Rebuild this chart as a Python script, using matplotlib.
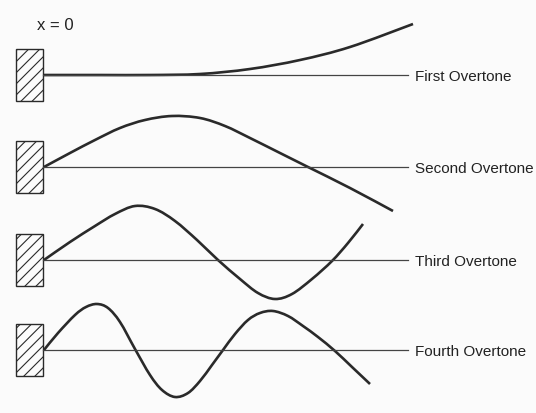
import matplotlib
matplotlib.use("Agg")
import matplotlib.pyplot as plt
from matplotlib.patches import Rectangle, PathPatch
from matplotlib.path import Path

# ---- data (pixel-like coordinates) ----
labels = ["First Overtone", "Second Overtone", "Third Overtone", "Fourth Overtone"]
baselines = [76, 168, 261, 351]

c1_x = [43, 100, 150, 200, 250, 300, 350, 413]
c1_y = [76, 76, 76, 75, 70, 61, 48, 25]

c2_x = [44, 70, 95, 120, 145, 172, 200, 225, 250, 280, 308, 350, 393]
c2_y = [168, 154, 141, 129, 121, 117, 119, 127, 139, 154, 168, 189, 212]

c3_x = [44, 70, 95, 115, 135, 155, 175, 197, 218, 240, 258, 275, 292, 312, 332, 348, 363]
c3_y = [261, 243, 227, 215, 207, 210, 222, 241, 261, 280, 294, 300, 295, 280, 262, 244, 225]

c4_x = [44, 58, 75, 86, 97, 108, 120, 135, 150, 162, 175, 188, 200, 212, 223, 235, 248, 260, 273, 288, 303, 318, 335, 352, 370]
c4_y = [351, 334, 316, 308, 305, 309, 323, 350, 376, 391, 398, 394, 382, 366, 351, 335, 321, 314, 312, 317, 327, 338, 352, 368, 385]

curves_x = [c1_x, c2_x, c3_x, c4_x]
curves_y = [c1_y, c2_y, c3_y, c4_y]

box_x0, box_x1 = 16, 43
box_half = 26
line_end = 408


def smooth_path(xs, ys):
    """Catmull-Rom through the read points, expressed as cubic Bezier segments."""
    pts = list(zip(xs, ys))
    verts = [pts[0]]
    codes = [Path.MOVETO]
    n = len(pts)
    for i in range(n - 1):
        p0 = pts[i - 1] if i > 0 else pts[i]
        p1 = pts[i]
        p2 = pts[i + 1]
        p3 = pts[i + 2] if i + 2 < n else pts[i + 1]
        c1 = (p1[0] + (p2[0] - p0[0]) / 6.0, p1[1] + (p2[1] - p0[1]) / 6.0)
        c2 = (p2[0] - (p3[0] - p1[0]) / 6.0, p2[1] - (p3[1] - p1[1]) / 6.0)
        verts += [c1, c2, p2]
        codes += [Path.CURVE4] * 3
    return Path(verts, codes)


plt.rcParams['font.family'] = ['Liberation Sans', 'DejaVu Sans']
plt.rcParams['hatch.linewidth'] = 0.8

fig = plt.figure(figsize=(5.36, 4.14), dpi=100, facecolor='#fbfbfb')
ax = fig.add_axes([0, 0, 1, 1])
ax.set_xlim(0, 536)
ax.set_ylim(414, 0)
ax.axis('off')

ink = '#2a2a2a'
for yb, lab, cx, cy in zip(baselines, labels, curves_x, curves_y):
    ax.add_patch(Rectangle((box_x0, yb - box_half), box_x1 - box_x0, 2 * box_half,
                           facecolor='none', edgecolor=ink, linewidth=1.0,
                           hatch='///'))
    ax.plot([box_x1, line_end], [yb, yb], color='#444444', linewidth=0.9)
    ax.add_patch(PathPatch(smooth_path(cx, cy), facecolor='none', edgecolor=ink,
                           linewidth=1.9, capstyle='butt'))
    ax.text(415, yb + 1, lab, fontsize=11, color='#222222', va='center', ha='left')

ax.text(37, 25, "x = 0", fontsize=12, color='#222222', va='center', ha='left')

fig.savefig("out.png", dpi=100, facecolor=fig.get_facecolor())
